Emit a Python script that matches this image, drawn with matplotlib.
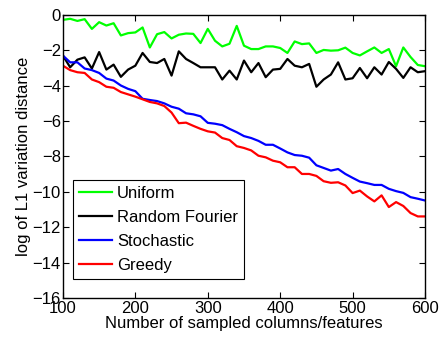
import numpy as np
import matplotlib
matplotlib.use("Agg")
import matplotlib.pyplot as plt

plt.rcParams['font.family'] = ['Liberation Sans', 'DejaVu Sans']

# number of sampled columns / features
cols = np.arange(100, 601, 10)

uniform = [-0.28, -0.22, -0.34, -0.24, -0.79, -0.41, -0.60, -0.47, -1.16, -1.03,
           -0.99, -0.71, -1.84, -1.09, -0.97, -1.33, -1.12, -1.05, -1.07, -1.59,
           -0.79, -1.46, -1.78, -1.63, -0.62, -1.74, -1.93, -1.93, -1.78, -1.78,
           -1.87, -2.15, -1.50, -1.65, -1.61, -2.15, -1.98, -2.02, -2.00, -1.85,
           -2.15, -2.29, -2.06, -1.84, -2.15, -1.93, -2.90, -1.84, -2.38, -2.83,
           -2.90]

random_fourier = [-2.30, -2.96, -2.53, -2.40, -3.03, -2.10, -3.09, -2.81, -3.50, -3.09,
                  -2.87, -2.15, -2.66, -2.72, -2.49, -3.43, -2.06, -2.49, -2.72, -2.96,
                  -2.96, -2.96, -3.65, -3.15, -3.65, -2.58, -3.24, -2.72, -3.52, -3.09,
                  -3.05, -2.49, -2.87, -2.96, -2.77, -4.06, -3.65, -3.37, -2.68, -3.65,
                  -3.58, -3.00, -3.58, -2.96, -3.37, -2.66, -3.05, -3.56, -2.96, -3.24,
                  -3.18]

stochastic = [-2.30, -2.68, -2.68, -3.03, -3.12, -3.28, -3.60, -3.71, -3.99, -4.18,
              -4.31, -4.74, -4.81, -4.87, -5.00, -5.19, -5.30, -5.56, -5.62, -5.73,
              -6.10, -6.15, -6.23, -6.44, -6.63, -6.85, -6.96, -7.12, -7.34, -7.34,
              -7.55, -7.77, -7.92, -7.96, -8.07, -8.50, -8.65, -8.80, -8.71, -8.99,
              -9.21, -9.42, -9.51, -9.61, -9.61, -9.83, -9.96, -10.06, -10.30, -10.39,
              -10.49]

greedy = [-2.87, -3.12, -3.24, -3.28, -3.65, -3.80, -4.06, -4.12, -4.36, -4.49,
          -4.62, -4.77, -4.92, -5.00, -5.15, -5.52, -6.12, -6.09, -6.27, -6.44,
          -6.58, -6.65, -6.96, -7.07, -7.42, -7.52, -7.66, -7.96, -8.05, -8.24,
          -8.33, -8.61, -8.61, -8.99, -8.99, -9.10, -9.40, -9.49, -9.46, -9.64,
          -10.07, -9.93, -10.26, -10.54, -10.20, -10.86, -10.58, -10.80, -11.20, -11.39,
          -11.39]

fig = plt.figure(figsize=(4.4, 3.39), dpi=100)
ax = fig.add_axes([0.143, 0.121, 0.823, 0.835])

lw = 1.6
ax.plot(cols, uniform, color=(0, 1, 0), lw=lw, label='Uniform')
ax.plot(cols, random_fourier, color='black', lw=lw, label='Random Fourier')
ax.plot(cols, stochastic, color='blue', lw=lw, label='Stochastic')
ax.plot(cols, greedy, color='red', lw=lw, label='Greedy')

ax.set_xlim(100, 600)
ax.set_ylim(-16, 0)
ax.set_xticks(np.arange(100, 601, 100))
ax.set_yticks(np.arange(-16, 1, 2))
ax.tick_params(direction='in', top=True, right=True, labelsize=12, length=4)
ax.tick_params(axis='x', pad=2.5)
ax.tick_params(axis='y', pad=1.5)
for s in ax.spines.values():
    s.set_linewidth(1.0)

ax.set_xlabel('Number of sampled columns/features', fontsize=12, labelpad=0)
ax.set_ylabel('log of L1 variation distance', fontsize=12, labelpad=1)

leg = ax.legend(loc='lower left', bbox_to_anchor=(0.028, 0.067), fontsize=12,
                fancybox=False, edgecolor='black', framealpha=1,
                handlelength=2.0, handletextpad=0.3, labelspacing=0.55,
                borderpad=0.35, borderaxespad=0)
leg.get_frame().set_linewidth(0.8)

fig.savefig('out.png', dpi=100)
